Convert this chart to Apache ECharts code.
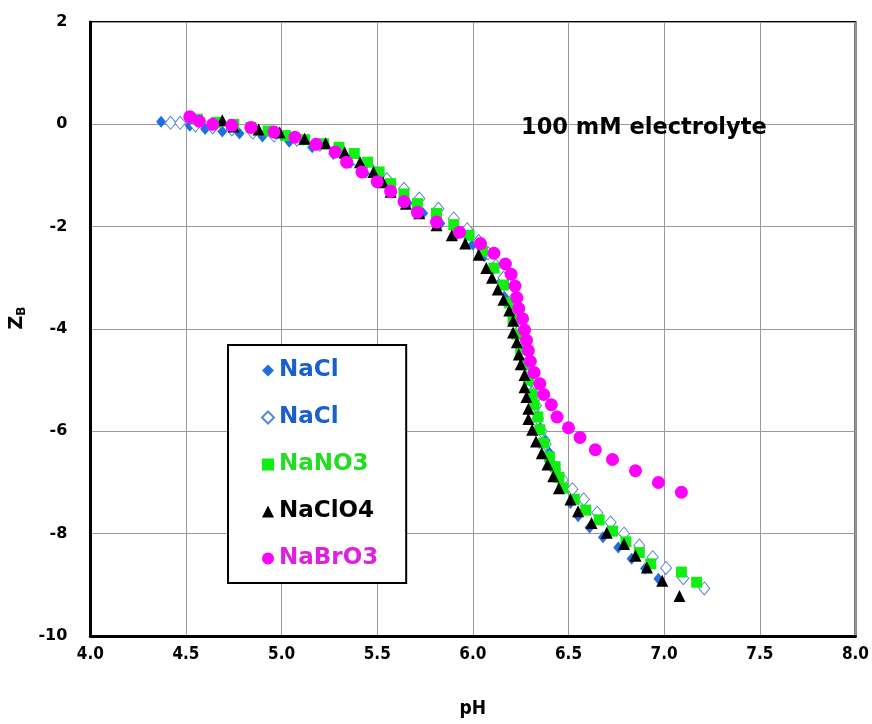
<!DOCTYPE html>
<html><head><meta charset="utf-8">
<script src="https://cdn.jsdelivr.net/npm/echarts@6/dist/echarts.min.js"></script>
<style>html,body{margin:0;padding:0;background:#fff}#c{width:872px;height:724px}</style>
</head><body><div id="c"></div>
<script>
// ---- data (pH, Z_B) ----
var xTicks = ['4.0','4.5','5.0','5.5','6.0','6.5','7.0','7.5','8.0'];
var yTicks = [2,0,-2,-4,-6,-8,-10];
var seriesNames = ['NaCl (a)','NaCl (b)','NaNO3','NaClO4','NaBrO3'];
var naclFilled = [[4.37,0.05],[4.52,-0.03],[4.60,-0.09],[4.69,-0.14],[4.78,-0.18],[4.90,-0.24],[5.04,-0.34],[5.16,-0.45],[5.27,-0.58],[5.36,-0.75],[5.44,-0.94],[5.51,-1.13],[5.58,-1.33],[5.66,-1.54],[5.74,-1.74],[5.83,-1.94],[5.92,-2.14],[6.00,-2.35],[6.06,-2.58],[6.11,-2.82],[6.15,-3.06],[6.18,-3.30],[6.20,-3.54],[6.22,-3.78],[6.24,-4.02],[6.25,-4.26],[6.27,-4.50],[6.28,-4.74],[6.29,-4.98],[6.31,-5.22],[6.32,-5.46],[6.34,-5.70],[6.35,-5.92],[6.38,-6.18],[6.40,-6.42],[6.42,-6.66],[6.44,-6.88],[6.47,-7.10],[6.51,-7.40],[6.55,-7.66],[6.61,-7.88],[6.68,-8.07],[6.76,-8.27],[6.83,-8.49],[6.90,-8.68],[6.97,-8.88]];
var naclOpen = [[4.42,0.03],[4.47,0.03],[4.55,-0.02],[4.64,-0.06],[4.74,-0.10],[4.85,-0.16],[4.96,-0.22],[5.08,-0.30],[5.20,-0.40],[5.31,-0.55],[5.39,-0.70],[5.47,-0.88],[5.55,-1.07],[5.64,-1.26],[5.72,-1.45],[5.82,-1.65],[5.90,-1.84],[5.97,-2.05],[6.03,-2.28],[6.08,-2.52],[6.12,-2.76],[6.16,-3.00],[6.19,-3.25],[6.21,-3.50],[6.23,-3.75],[6.25,-4.00],[6.26,-4.25],[6.28,-4.50],[6.29,-4.75],[6.30,-5.00],[6.31,-5.25],[6.33,-5.50],[6.34,-5.75],[6.36,-6.00],[6.38,-6.25],[6.40,-6.50],[6.43,-6.75],[6.47,-6.95],[6.52,-7.13],[6.58,-7.33],[6.65,-7.59],[6.72,-7.78],[6.79,-8.00],[6.87,-8.23],[6.94,-8.46],[7.01,-8.67],[7.10,-8.87],[7.21,-9.07]];
var nano3 = [[4.56,0.10],[4.66,0.04],[4.75,0.00],[4.84,-0.06],[4.93,-0.13],[5.02,-0.22],[5.12,-0.30],[5.22,-0.38],[5.30,-0.45],[5.38,-0.57],[5.45,-0.74],[5.51,-0.93],[5.57,-1.16],[5.64,-1.36],[5.71,-1.55],[5.81,-1.74],[5.90,-1.96],[5.98,-2.17],[6.05,-2.48],[6.11,-2.81],[6.16,-3.14],[6.19,-3.49],[6.21,-3.80],[6.23,-4.10],[6.25,-4.40],[6.27,-4.70],[6.29,-5.00],[6.31,-5.27],[6.32,-5.48],[6.34,-5.72],[6.35,-5.97],[6.37,-6.23],[6.40,-6.50],[6.43,-6.69],[6.45,-6.90],[6.47,-7.11],[6.53,-7.33],[6.59,-7.54],[6.66,-7.73],[6.73,-7.95],[6.80,-8.16],[6.87,-8.37],[6.93,-8.59],[7.09,-8.75],[7.17,-8.95]];
var naclo4 = [[4.69,0.08],[4.75,-0.04],[4.88,-0.10],[4.99,-0.16],[5.12,-0.28],[5.23,-0.37],[5.33,-0.55],[5.41,-0.74],[5.48,-0.93],[5.53,-1.13],[5.57,-1.32],[5.65,-1.55],[5.72,-1.74],[5.81,-1.97],[5.89,-2.17],[5.96,-2.33],[6.03,-2.55],[6.07,-2.81],[6.10,-3.00],[6.13,-3.23],[6.16,-3.43],[6.19,-3.64],[6.21,-3.84],[6.21,-4.07],[6.23,-4.26],[6.24,-4.50],[6.25,-4.69],[6.27,-4.90],[6.27,-5.14],[6.28,-5.33],[6.29,-5.56],[6.29,-5.76],[6.31,-5.97],[6.33,-6.20],[6.36,-6.43],[6.39,-6.65],[6.42,-6.88],[6.45,-7.11],[6.51,-7.33],[6.55,-7.56],[6.62,-7.79],[6.70,-7.98],[6.79,-8.20],[6.85,-8.43],[6.91,-8.66],[6.99,-8.92],[7.08,-9.22]];
var nabro3 = [[4.52,0.15],[4.57,0.06],[4.64,0.00],[4.74,-0.02],[4.84,-0.06],[4.96,-0.15],[5.07,-0.25],[5.18,-0.39],[5.28,-0.54],[5.34,-0.74],[5.42,-0.93],[5.50,-1.12],[5.57,-1.31],[5.64,-1.51],[5.71,-1.72],[5.81,-1.91],[5.93,-2.11],[6.04,-2.33],[6.11,-2.52],[6.17,-2.73],[6.20,-2.93],[6.22,-3.16],[6.23,-3.39],[6.24,-3.60],[6.26,-3.80],[6.27,-4.02],[6.28,-4.22],[6.29,-4.42],[6.30,-4.63],[6.32,-4.85],[6.35,-5.07],[6.37,-5.28],[6.41,-5.48],[6.44,-5.72],[6.50,-5.93],[6.56,-6.12],[6.64,-6.36],[6.73,-6.55],[6.85,-6.77],[6.97,-7.00],[7.09,-7.19]];

var chart = echarts.init(document.getElementById('c'), null, {renderer:'canvas'});
var DJ = "'DejaVu Sans',sans-serif";
var DJC = "'DejaVu Sans Condensed','DejaVu Sans',sans-serif";
var option = {
  backgroundColor:'#fff',
  animation:false,
  grid:{left:88, top:22, right:16, bottom:81, show:true, borderColor:'#000', borderWidth:2, backgroundColor:'#fff'},
  xAxis:{type:'value', min:4, max:8, interval:0.5,
    axisLine:{show:true, onZero:false, lineStyle:{color:'#000', width:3}}, axisTick:{show:false},
    splitLine:{show:true, lineStyle:{color:'#9a9a9a', width:1}},
    axisLabel:{margin:10, color:'#000', fontSize:17, fontWeight:'bold', fontFamily:DJC,
      formatter:function(v){var i=Math.round((v-4)/0.5); return xTicks[i]!==undefined?xTicks[i]:'';}},
    name:'pH', nameLocation:'middle', nameGap:64,
    nameTextStyle:{color:'#000', fontSize:19, fontWeight:'bold', fontFamily:DJC}},
  yAxis:{type:'value', min:-10, max:2, interval:2,
    axisLine:{show:true, onZero:false, lineStyle:{color:'#000', width:3}}, axisTick:{show:false},
    splitLine:{show:true, lineStyle:{color:'#9a9a9a', width:1}},
    axisLabel:{margin:23, color:'#000', fontSize:16, fontWeight:'bold', fontFamily:DJ,
      formatter:function(v){return yTicks.indexOf(v)>=0?String(v):'';}},
    name:'{z|Z}{b|B}', nameLocation:'middle', nameGap:53, nameRotate:90,
    nameTextStyle:{padding:[0,0,0,22],
      rich:{z:{fontSize:19, fontWeight:'bold', color:'#000', fontFamily:DJ},
            b:{fontSize:12, fontWeight:'bold', color:'#000', fontFamily:DJ, verticalAlign:'bottom', padding:[8,0,0,0]}}}},
  legend:{orient:'vertical', left:228, top:345, itemWidth:12, itemHeight:12, itemGap:24,
    backgroundColor:'#fff', borderColor:'#000', borderWidth:2, padding:[14,28,13,33],
    formatter:function(n){return n.split(' ')[0];},
    textStyle:{fontFamily:DJ, fontWeight:'bold', fontSize:23},
    data:[
      {name:seriesNames[0], textStyle:{color:'#1a5fd0'}},
      {name:seriesNames[1], textStyle:{color:'#1a5fd0'}},
      {name:seriesNames[2], textStyle:{color:'#22dd22'}},
      {name:seriesNames[3], textStyle:{color:'#000'}},
      {name:seriesNames[4], textStyle:{color:'#e020e0'}}]},
  graphic:[{type:'text', left:521, top:117, z:10,
    style:{text:'100 mM electrolyte', fill:'#000', font:"bold 22.5px 'DejaVu Sans', sans-serif"}}],
  series:[
    {name:seriesNames[0], type:'scatter', data:naclFilled, symbol:'diamond', symbolSize:[10,12],
      itemStyle:{color:'#1f6fe0', opacity:1}},
    {name:seriesNames[1], type:'scatter', data:naclOpen, symbol:'diamond', symbolSize:[11,13],
      itemStyle:{color:'#fff', borderColor:'#5a86d0', borderWidth:1, opacity:1}},
    {name:seriesNames[2], type:'scatter', data:nano3, symbol:'rect', symbolSize:11,
      itemStyle:{color:'#11ee11', opacity:1}},
    {name:seriesNames[3], type:'scatter', data:naclo4, symbol:'triangle', symbolSize:[12,12],
      itemStyle:{color:'#000', opacity:1}},
    {name:seriesNames[4], type:'scatter', data:nabro3, symbol:'circle', symbolSize:13,
      itemStyle:{color:'#ff00ff', opacity:1}}
  ]
};
chart.setOption(option);
</script></body></html>
